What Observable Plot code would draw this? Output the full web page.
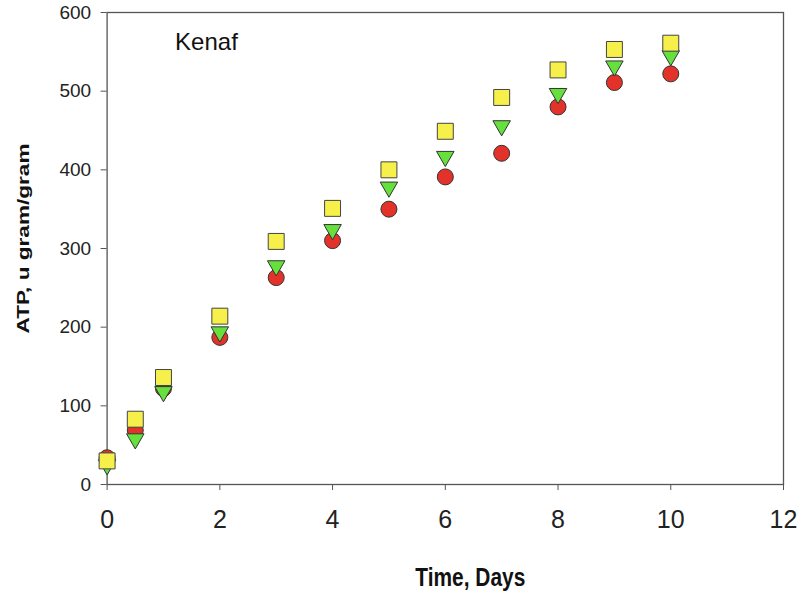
<!DOCTYPE html>
<html>
<head>
<meta charset="utf-8">
<script src="https://cdn.jsdelivr.net/npm/d3@7"></script>
<script src="https://cdn.jsdelivr.net/npm/@observablehq/plot@0.6"></script>
<style>
  html, body { margin: 0; padding: 0; background: #fff; }
  #chart svg { display: block; }
</style>
</head>
<body>
<div id="chart"></div>
<script>
const days = [0, 0.5, 1, 2, 3, 4, 5, 6, 7, 8, 9, 10];
const circleSeries = [34, 69, 122, 187, 263, 310, 350, 391, 421, 480, 511, 522];
const triangleSeries = [25, 58, 118, 194, 278, 324, 378, 417, 456, 497, 532, 545];
const squareSeries = [30, 83, 136, 214, 309, 351, 400, 449, 492, 527, 553, 561];
const xTicks = [0, 2, 4, 6, 8, 10, 12];
const yTicks = [0, 100, 200, 300, 400, 500, 600];
const panelLabel = "Kenaf";
const xLabel = "Time, Days";
const yLabel = "ATP, u gram/gram";

const rows = (vals) => days.map((d, i) => ({day: d, value: vals[i]}));

const chart = Plot.plot({
  width: 801,
  height: 596,
  marginLeft: 106.6,
  marginRight: 18,
  marginTop: 12,
  marginBottom: 112,
  style: {background: "#fff", fontFamily: "'Liberation Sans', Arial, sans-serif", color: "#222"},
  x: {domain: [0, 12]},
  y: {domain: [0, 600]},
  marks: [
    Plot.axisX({ticks: xTicks, tickSize: 6, tickPadding: 20, fontSize: 25, label: null, stroke: "#555"}),
    Plot.axisY({ticks: yTicks, tickSize: 6, tickPadding: 10, fontSize: 19, label: null, stroke: "#555"}),
    Plot.frame({stroke: "#555", strokeWidth: 1.3}),
    Plot.dot(rows(circleSeries), {x: "day", y: "value", symbol: "circle", r: 8, fill: "#e3322a", stroke: "#333", strokeWidth: 1}),
    Plot.dot(rows(triangleSeries), {x: "day", y: "value", symbol: "triangle", r: 6.5, rotate: 180, fill: "#66e03c", stroke: "#333", strokeWidth: 1}),
    Plot.dot(rows(squareSeries), {x: "day", y: "value", symbol: "square", r: 9, fill: "#f7f04a", stroke: "#444", strokeWidth: 1}),
    Plot.text([panelLabel], {frameAnchor: "top-left", textAnchor: "start", lineAnchor: "top", dx: 68, dy: 20, fontSize: 24, fill: "#111"}),
    Plot.text([xLabel], {frameAnchor: "bottom", textAnchor: "middle", lineAnchor: "middle", dx: 25, dy: 93, fontSize: 25, fontWeight: "bold", fill: "#111"}),
    Plot.text([yLabel], {frameAnchor: "left", textAnchor: "middle", lineAnchor: "middle", rotate: -90, dx: -84, dy: -10, fontSize: 17, fontWeight: "bold", fill: "#111"})
  ]
});

d3.select(chart).selectAll("text").each(function() {
  const t = this.textContent;
  if (t === xLabel) { this.setAttribute("textLength", 110); this.setAttribute("lengthAdjust", "spacingAndGlyphs"); }
  if (t === yLabel) { this.setAttribute("textLength", 190); this.setAttribute("lengthAdjust", "spacingAndGlyphs"); }
});

document.getElementById("chart").appendChild(chart);
</script>
</body>
</html>
